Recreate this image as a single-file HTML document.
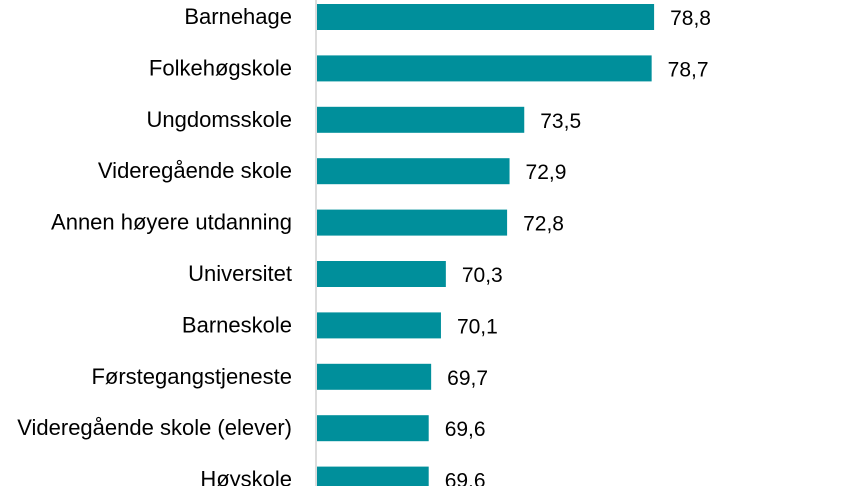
<!DOCTYPE html>
<html><head><meta charset="utf-8"><style>
body{margin:0;background:#fff;width:864px;height:486px;overflow:hidden;font-family:"Liberation Sans",sans-serif}
</style></head><body>
<svg id="chart" width="864" height="486" xmlns="http://www.w3.org/2000/svg"></svg>
<script>
const categories=["Barnehage","Folkehøgskole","Ungdomsskole","Videregående skole","Annen høyere utdanning","Universitet","Barneskole","Førstegangstjeneste","Videregående skole (elever)","Høyskole"];
const values=[78.8,78.7,73.5,72.9,72.8,70.3,70.1,69.7,69.6,69.6];
const xMin=65, x0=316, pxPerUnit=24.5;
const rowTop=4, rowStep=51.4, barH=26;
const xs=v=>x0+(v-xMin)*pxPerUnit;
const svg=document.getElementById('chart');
const NS='http://www.w3.org/2000/svg';
function mk(t,a){const e=document.createElementNS(NS,t);for(const k in a)e.setAttribute(k,a[k]);svg.appendChild(e);return e;}
const ax=mk('line',{x1:x0,y1:0,x2:x0,y2:486,stroke:'#d0d0d0','stroke-width':1.5});


categories.forEach((c,i)=>{
  const y=rowTop+i*rowStep, cy=y+barH/2;
  const r=mk('rect',{x:x0+1,y:y,width:xs(values[i])-x0-1,height:barH,fill:'#008F9B'});
  
  
  const l=mk('text',{x:292,y:cy+7,'text-anchor':'end','font-size':22,fill:'#000'});
  l.textContent=c;
  
  
  const v=mk('text',{x:xs(values[i])+16,y:cy+8,'font-size':21,fill:'#000'});
  v.textContent=values[i].toFixed(1).replace('.',',');
  
  
});
</script>
</body></html>
